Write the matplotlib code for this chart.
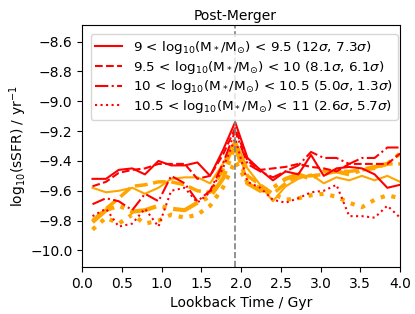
import numpy as np
import matplotlib
matplotlib.use("Agg")
import matplotlib.pyplot as plt

# lookback time of each snapshot (Gyr)
t = [0.13, 0.30, 0.46, 0.63, 0.79, 0.96, 1.12, 1.29, 1.45, 1.61, 1.77, 1.925,
     2.08, 2.24, 2.40, 2.56, 2.72, 2.88, 3.04, 3.20, 3.36, 3.52, 3.68, 3.84, 4.00]
t_merger = 1.925

labels = [r"9 < log$_{10}$(M$_*$/M$_{\odot}$) < 9.5 (12$\sigma$, 7.3$\sigma$)",
          r"9.5 < log$_{10}$(M$_*$/M$_{\odot}$) < 10 (8.1$\sigma$, 6.1$\sigma$)",
          r"10 < log$_{10}$(M$_*$/M$_{\odot}$) < 10.5 (5.0$\sigma$, 1.3$\sigma$)",
          r"10.5 < log$_{10}$(M$_*$/M$_{\odot}$) < 11 (2.6$\sigma$, 5.7$\sigma$)"]

# post-merger sample (red)
pm_1 = [-9.52, -9.52, -9.46, -9.45, -9.49, -9.40, -9.43, -9.43, -9.41, -9.50, -9.33, -9.14,
        -9.38, -9.46, -9.53, -9.47, -9.49, -9.36, -9.50, -9.45, -9.44, -9.45, -9.49, -9.58, -9.56]
pm_2 = [-9.57, -9.54, -9.48, -9.46, -9.45, -9.42, -9.42, -9.42, -9.52, -9.50, -9.36, -9.18,
        -9.40, -9.46, -9.45, -9.44, -9.42, -9.44, -9.45, -9.47, -9.42, -9.42, -9.42, -9.42, -9.35]
pm_3 = [-9.69, -9.65, -9.67, -9.73, -9.62, -9.67, -9.50, -9.55, -9.67, -9.60, -9.42, -9.20,
        -9.42, -9.47, -9.51, -9.47, -9.43, -9.34, -9.38, -9.38, -9.42, -9.38, -9.38, -9.31, -9.31]
pm_4 = [-9.77, -9.72, -9.84, -9.82, -9.72, -9.84, -9.60, -9.58, -9.68, -9.61, -9.45, -9.25,
        -9.54, -9.58, -9.66, -9.68, -9.65, -9.61, -9.60, -9.56, -9.77, -9.77, -9.78, -9.70, -9.78]

# control sample (orange)
ct_1 = [-9.58, -9.61, -9.60, -9.58, -9.62, -9.58, -9.52, -9.51, -9.51, -9.55, -9.42, -9.26,
        -9.45, -9.56, -9.67, -9.57, -9.52, -9.49, -9.55, -9.51, -9.53, -9.50, -9.53, -9.50, -9.54]
ct_2 = [-9.80, -9.72, -9.65, -9.57, -9.56, -9.54, -9.54, -9.56, -9.60, -9.61, -9.46, -9.28,
        -9.50, -9.56, -9.62, -9.55, -9.50, -9.50, -9.49, -9.47, -9.47, -9.46, -9.45, -9.42, -9.42]
ct_3 = [-9.81, -9.73, -9.70, -9.74, -9.73, -9.70, -9.72, -9.73, -9.68, -9.64, -9.52, -9.30,
        -9.55, -9.60, -9.58, -9.52, -9.49, -9.52, -9.47, -9.47, -9.49, -9.46, -9.44, -9.42, -9.35]
ct_4 = [-9.86, -9.78, -9.82, -9.76, -9.82, -9.80, -9.76, -9.78, -9.76, -9.70, -9.58, -9.40,
        -9.55, -9.58, -9.62, -9.66, -9.65, -9.63, -9.62, -9.64, -9.68, -9.71, -9.66, -9.63, -9.65]

pm = [pm_1, pm_2, pm_3, pm_4]
ct = [ct_1, ct_2, ct_3, ct_4]
styles = ["-", "--", "-.", ":"]
ct_widths = [1.5, 2.5, 3.0, 3.0]

fig = plt.figure(figsize=(4.15, 3.14), dpi=100)
ax = fig.add_axes([0.198, 0.150, 0.766, 0.770])

for i in range(4):
    ax.plot(t, ct[i], styles[i], color="orange", linewidth=ct_widths[i])
for i in range(4):
    ax.plot(t, pm[i], styles[i], color="red", linewidth=1.5, label=labels[i])

ax.axvline(t_merger, color="gray", linestyle="--", linewidth=1.2)
ax.text(t_merger, 1.01, "Post-Merger", transform=ax.get_xaxis_transform(),
        ha="center", va="bottom", fontsize=10)

ax.set_xlim(0, 4)
ax.set_ylim(-10.11, -8.49)
ax.set_xticks(np.arange(0, 4.01, 0.5))
ax.set_yticks(np.arange(-10.0, -8.59, 0.2))
ax.tick_params(labelsize=10)
ax.set_xlabel("Lookback Time / Gyr", fontsize=10)
ax.set_ylabel(r"log$_{10}$(sSFR) / yr$^{-1}$", fontsize=10, labelpad=1)
ax.legend(loc="upper center", bbox_to_anchor=(0.51, 0.99), fontsize=9.7,
          handlelength=2.0, labelspacing=0.2, borderpad=0.35)

fig.savefig("out.png", dpi=100)
